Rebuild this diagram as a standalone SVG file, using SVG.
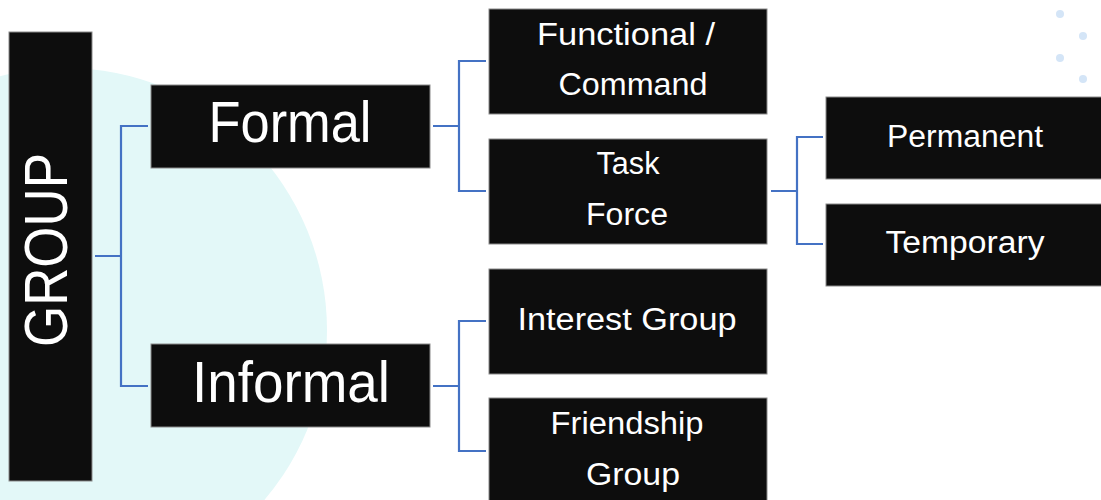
<svg xmlns="http://www.w3.org/2000/svg" width="1101" height="500" viewBox="0 0 1101 500">
  <style>
    .box { fill: #0d0d0d; stroke: #8a8a8a; stroke-width: 1; }
    .lbl { fill: #ffffff; font-family: "Liberation Sans", "DejaVu Sans", sans-serif; text-anchor: middle; }
    .big { font-size: 58px; }
    .mid { font-size: 31px; }
    .link { fill: none; stroke: #4472c4; stroke-width: 2.2; }
    .dot { fill: #d4e5f7; }
  </style>

  <!-- background -->
  <rect x="0" y="0" width="1101" height="500" fill="#ffffff"/>
  <circle cx="65" cy="330" r="262" fill="#e3f8f8"/>
  <g id="dots">
    <circle class="dot" cx="1060" cy="14" r="4"/>
    <circle class="dot" cx="1083" cy="36" r="4"/>
    <circle class="dot" cx="1060" cy="58" r="4"/>
    <circle class="dot" cx="1083" cy="79" r="4"/>
  </g>

  <!-- connectors -->
  <g id="connectors">
    <path class="link" d="M95 256 H121 M148 126 H121 V386 H148"/>
    <path class="link" d="M433 126 H459 M486 61 H459 V191 H486"/>
    <path class="link" d="M433 386 H459 M486 321 H459 V451 H486"/>
    <path class="link" d="M771 191 H797 M823 137 H797 V244 H823"/>
  </g>

  <!-- nodes -->
  <g id="group">
    <rect class="box" x="9" y="32" width="83" height="449"/>
    <text class="lbl" font-size="61" transform="translate(67 250) rotate(-90)" textLength="194" lengthAdjust="spacingAndGlyphs">GROUP</text>
  </g>

  <g id="formal">
    <rect class="box" x="151" y="85" width="279" height="83"/>
    <text class="lbl big" x="290" y="142" textLength="163" lengthAdjust="spacingAndGlyphs">Formal</text>
  </g>

  <g id="informal">
    <rect class="box" x="151" y="344" width="279" height="83"/>
    <text class="lbl big" x="291" y="402" textLength="198" lengthAdjust="spacingAndGlyphs">Informal</text>
  </g>

  <g id="functional">
    <rect class="box" x="489" y="9" width="278" height="105"/>
    <text class="lbl mid" x="626" y="45" textLength="178" lengthAdjust="spacingAndGlyphs">Functional /</text>
    <text class="lbl mid" x="633" y="95" textLength="149" lengthAdjust="spacingAndGlyphs">Command</text>
  </g>

  <g id="taskforce">
    <rect class="box" x="489" y="139" width="278" height="105"/>
    <text class="lbl mid" x="628" y="174" textLength="63" lengthAdjust="spacingAndGlyphs">Task</text>
    <text class="lbl mid" x="627" y="225" textLength="82" lengthAdjust="spacingAndGlyphs">Force</text>
  </g>

  <g id="interest">
    <rect class="box" x="489" y="269" width="278" height="105"/>
    <text class="lbl mid" x="627" y="330" textLength="219" lengthAdjust="spacingAndGlyphs">Interest Group</text>
  </g>

  <g id="friendship">
    <rect class="box" x="489" y="398" width="278" height="110"/>
    <text class="lbl mid" x="627" y="434" textLength="153" lengthAdjust="spacingAndGlyphs">Friendship</text>
    <text class="lbl mid" x="633" y="485" textLength="94" lengthAdjust="spacingAndGlyphs">Group</text>
  </g>

  <g id="permanent">
    <rect class="box" x="826" y="97" width="285" height="82"/>
    <text class="lbl mid" x="965" y="147" textLength="156" lengthAdjust="spacingAndGlyphs">Permanent</text>
  </g>

  <g id="temporary">
    <rect class="box" x="826" y="204" width="285" height="82"/>
    <text class="lbl mid" x="965" y="253" textLength="159" lengthAdjust="spacingAndGlyphs">Temporary</text>
  </g>
</svg>
